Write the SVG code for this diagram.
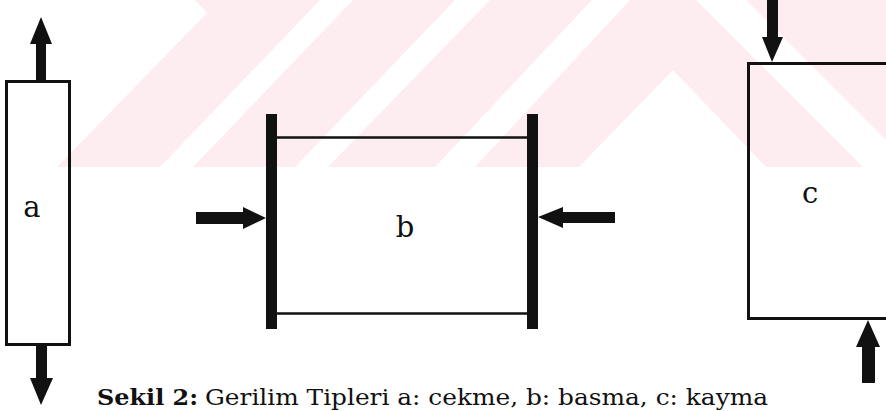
<svg xmlns="http://www.w3.org/2000/svg" width="886" height="411" viewBox="0 0 886 411">
<style>
.wm{fill:#fdedf0;stroke:none}
.box{fill:none;stroke:#111;stroke-width:3}
.thin{fill:none;stroke:#111;stroke-width:2.5}
.bar{fill:#111}
.arrow{fill:#111}
.lbl{font-family:"DejaVu Serif","Liberation Serif",serif;font-size:29px;fill:#111}
.cap{font-family:"DejaVu Serif","Liberation Serif",serif;font-size:22px;fill:#111}
</style>
<rect x="0" y="0" width="886" height="411" fill="#fff"/>
<g id="watermark">
<polygon class="wm" points="195,0 207,13 57,167 160,167 320,0"/>
<polygon class="wm" points="353,0 193,167 295,167 455,0"/>
<polygon class="wm" points="490,0 328,167 435,167 592,0"/>
<polygon class="wm" points="630,0 696,0 863,167 766,167 673,70 579,167 475,167"/>
<polygon class="wm" points="746,0 886,0 886,140"/>
</g>
<g id="node-a">
<rect class="box" x="6.5" y="81.5" width="63" height="263"/>
<text class="lbl" x="32" y="217" text-anchor="middle">a</text>
</g>
<g id="node-b">
<rect class="bar" x="266" y="114" width="11" height="215"/>
<rect class="bar" x="527" y="114" width="11" height="215"/>
<line class="thin" x1="277" y1="137.5" x2="527" y2="137.5"/>
<line class="thin" x1="277" y1="313.5" x2="527" y2="313.5"/>
<text class="lbl" x="405" y="237" text-anchor="middle">b</text>
</g>
<g id="node-c">
<polyline class="box" points="890,63.5 748.5,63.5 748.5,318.5 890,318.5"/>
<text class="lbl" x="810" y="203" text-anchor="middle">c</text>
</g>
<g id="connectors">
<polygon class="arrow" points="41,17 52,44 46,44 46,81 36,81 36,44 30,44"/>
<polygon class="arrow" points="41,405 53,378 47,378 47,345 36,345 36,378 30,378"/>
<polygon class="arrow" points="266,218 243,207 243,212 196,212 196,224 243,224 243,229"/>
<polygon class="arrow" points="538,217 563,207 563,212 615,212 615,223 563,223 563,228"/>
<polygon class="arrow" points="772,62 783,37 778,37 778,0 767,0 767,37 762,37"/>
<polygon class="arrow" points="868,320 880,347 875,347 875,383 862,383 862,347 856,347"/>
</g>
<g id="caption">
<text class="cap" y="404.5"><tspan x="97" font-weight="bold" textLength="101" lengthAdjust="spacingAndGlyphs">Sekil 2:</tspan><tspan x="205" textLength="563" lengthAdjust="spacingAndGlyphs">Gerilim Tipleri a: cekme, b: basma, c: kayma</tspan></text>
</g>
</svg>
